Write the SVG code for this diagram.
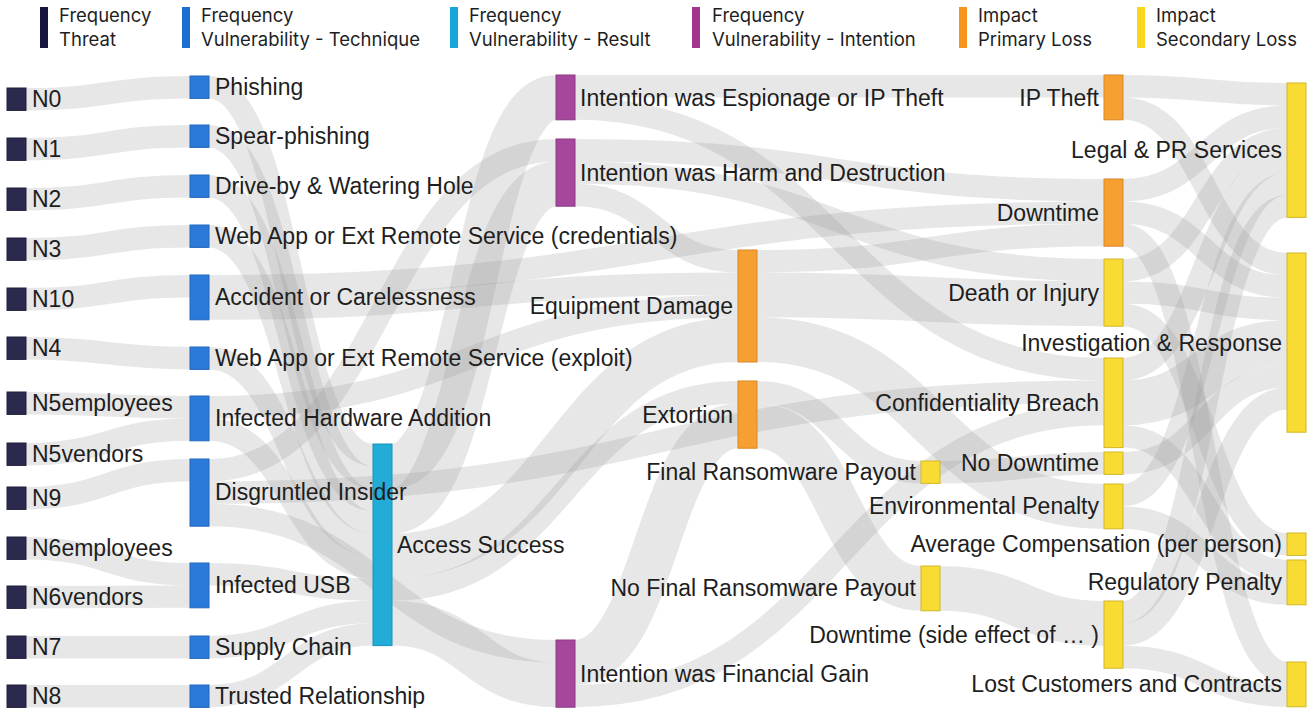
<svg xmlns="http://www.w3.org/2000/svg" width="1308" height="708" viewBox="0 0 1308 708">
<style>
.lk{fill:none;stroke:#9a9a9a;stroke-opacity:0.24}
.n{stroke-width:1}
.c0{fill:#2b2a4e;stroke:#1f1e3a}
.c1{fill:#2b7ad9;stroke:#2467b9}
.c2{fill:#22acd8;stroke:#1a91b8}
.c3{fill:#a6469c;stroke:#8b3a82}
.c4{fill:#f5a031;stroke:#d9872a}
.c5{fill:#f8dc33;stroke:#d2b62a}
.t{font-family:"Liberation Sans",Arial,sans-serif;font-size:23px;fill:#1e1e1e}
.e{text-anchor:end}
.lg{font-family:Inter,"Liberation Sans",sans-serif;font-size:18.5px;fill:#1e1e1e}
</style>
<rect width="1308" height="708" fill="#ffffff"/>
<g id="legend">
<rect x="40" y="7" width="8" height="41" fill="#16153f"/><text class="lg" x="59" y="22">Frequency</text><text class="lg" x="59" y="46">Threat</text>
<rect x="182" y="7" width="8" height="41" fill="#1b6fd2"/><text class="lg" x="201" y="22">Frequency</text><text class="lg" x="201" y="46">Vulnerability - Technique</text>
<rect x="450" y="7" width="8" height="41" fill="#17a6d8"/><text class="lg" x="469" y="22">Frequency</text><text class="lg" x="469" y="46">Vulnerability - Result</text>
<rect x="692" y="7" width="8" height="41" fill="#a5368f"/><text class="lg" x="712" y="22">Frequency</text><text class="lg" x="712" y="46">Vulnerability - Intention</text>
<rect x="959" y="7" width="8" height="41" fill="#f7941d"/><text class="lg" x="978" y="22">Impact</text><text class="lg" x="978" y="46">Primary Loss</text>
<rect x="1137" y="7" width="8" height="41" fill="#f9d71c"/><text class="lg" x="1156" y="22">Impact</text><text class="lg" x="1156" y="46">Secondary Loss</text>
</g>
<g id="links" class="lk" stroke-width="22.4">
<path d="M26 99.2C108 99.2 108 87.2 190 87.2"/>
<path d="M26 149.2C108 149.2 108 136.2 190 136.2"/>
<path d="M26 199.2C108 199.2 108 186.2 190 186.2"/>
<path d="M26 249.2C108 249.2 108 236.2 190 236.2"/>
<path d="M26 299.2C108 299.2 108 286.2 190 286.2"/>
<path d="M26 348.2C108 348.2 108 358.2 190 358.2"/>
<path d="M26 403.2C108 403.2 108 407.2 190 407.2"/>
<path d="M26 454.2C108 454.2 108 429.6 190 429.6"/>
<path d="M26 498.2C108 498.2 108 470.2 190 470.2"/>
<path d="M26 548.2C108 548.2 108 574.2 190 574.2"/>
<path d="M26 597.2C108 597.2 108 596.6 190 596.6"/>
<path d="M26 647.2C108 647.2 108 647.2 190 647.2"/>
<path d="M26 696.2C108 696.2 108 696.2 190 696.2"/>
<path d="M209 87.2C291 87.2 291 455.2 373 455.2"/>
<path d="M209 136.2C291 136.2 291 477.6 373 477.6"/>
<path d="M209 186.2C291 186.2 291 500 373 500"/>
<path d="M209 236.2C291 236.2 291 522.4 373 522.4"/>
<path d="M209 358.2C291 358.2 291 544.8 373 544.8"/>
<path d="M209 429.6C291 429.6 291 567.2 373 567.2"/>
<path d="M209 574.2C291 574.2 291 589.6 373 589.6"/>
<path d="M209 647.2C291 647.2 291 612 373 612"/>
<path d="M209 696.2C291 696.2 291 634.4 373 634.4"/>
<path d="M209 286.2C656.5 286.2 656.5 212.6 1104 212.6"/>
<path d="M209 308.6C473.5 308.6 473.5 283.6 738 283.6"/>
<path d="M209 407.2C473.5 407.2 473.5 306 738 306"/>
<path d="M209 470.2C382.5 470.2 382.5 150.2 556 150.2"/>
<path d="M209 492.6C656.5 492.6 656.5 391.6 1104 391.6"/>
<path d="M209 515C382.5 515 382.5 651.2 556 651.2"/>
<path d="M392 466.4C474 466.4 474 97.4 556 97.4" stroke-width="44.8"/>
<path d="M392 511.2C474 511.2 474 183.8 556 183.8" stroke-width="44.8"/>
<path d="M392 556C565 556 565 339.6 738 339.6" stroke-width="44.8"/>
<path d="M392 589.6C565 589.6 565 392.2 738 392.2"/>
<path d="M392 623.2C474 623.2 474 684.8 556 684.8" stroke-width="44.8"/>
<path d="M575 86.2C839.5 86.2 839.5 86.2 1104 86.2"/>
<path d="M575 108.6C839.5 108.6 839.5 369.2 1104 369.2"/>
<path d="M575 150.2C839.5 150.2 839.5 190.2 1104 190.2"/>
<path d="M575 172.6C839.5 172.6 839.5 270.2 1104 270.2"/>
<path d="M575 195C656.5 195 656.5 261.2 738 261.2"/>
<path d="M575 662.4C656.5 662.4 656.5 425.8 738 425.8" stroke-width="44.8"/>
<path d="M575 696C839.5 696 839.5 414 1104 414"/>
<path d="M757 261.2C930.5 261.2 930.5 235 1104 235"/>
<path d="M757 294.8C930.5 294.8 930.5 303.8 1104 303.8" stroke-width="44.8"/>
<path d="M757 339.6C930.5 339.6 930.5 506.4 1104 506.4" stroke-width="44.8"/>
<path d="M757 392.2C839 392.2 839 472.2 921 472.2"/>
<path d="M757 425.8C839 425.8 839 588.4 921 588.4" stroke-width="44.8"/>
<path d="M940 472.2C1022 472.2 1022 463.2 1104 463.2"/>
<path d="M940 588.4C1022 588.4 1022 623.4 1104 623.4" stroke-width="44.8"/>
<path d="M1123 86.2C1205 86.2 1205 94.2 1287 94.2"/>
<path d="M1123 108.6C1205 108.6 1205 264.2 1287 264.2"/>
<path d="M1123 190.2C1205 190.2 1205 116.6 1287 116.6"/>
<path d="M1123 212.6C1205 212.6 1205 286.6 1287 286.6"/>
<path d="M1123 235C1205 235 1205 673.2 1287 673.2"/>
<path d="M1123 270.2C1205 270.2 1205 139 1287 139"/>
<path d="M1123 292.6C1205 292.6 1205 309 1287 309"/>
<path d="M1123 315C1205 315 1205 544.2 1287 544.2"/>
<path d="M1123 369.2C1205 369.2 1205 161.4 1287 161.4"/>
<path d="M1123 402.8C1205 402.8 1205 342.6 1287 342.6" stroke-width="44.8"/>
<path d="M1123 436.4C1205 436.4 1205 571.2 1287 571.2"/>
<path d="M1123 463.2C1205 463.2 1205 376.2 1287 376.2"/>
<path d="M1123 495.2C1205 495.2 1205 183.8 1287 183.8"/>
<path d="M1123 517.6C1205 517.6 1205 593.6 1287 593.6"/>
<path d="M1123 612.2C1205 612.2 1205 206.2 1287 206.2"/>
<path d="M1123 634.6C1205 634.6 1205 398.6 1287 398.6"/>
<path d="M1123 657C1205 657 1205 695.6 1287 695.6"/>
</g>
<g id="nodes">
<g id="n-access"><rect class="n c2" x="373" y="444" width="19" height="201.6"/><text class="t" x="397" y="553">Access Success</text></g>
<g id="n-N0"><rect class="n c0" x="7" y="88" width="19" height="22.4"/><text class="t" x="32" y="107">N0</text></g>
<g id="n-N1"><rect class="n c0" x="7" y="138" width="19" height="22.4"/><text class="t" x="32" y="157">N1</text></g>
<g id="n-N2"><rect class="n c0" x="7" y="188" width="19" height="22.4"/><text class="t" x="32" y="207">N2</text></g>
<g id="n-N3"><rect class="n c0" x="7" y="238" width="19" height="22.4"/><text class="t" x="32" y="257">N3</text></g>
<g id="n-N10"><rect class="n c0" x="7" y="288" width="19" height="22.4"/><text class="t" x="32" y="307">N10</text></g>
<g id="n-N4"><rect class="n c0" x="7" y="337" width="19" height="22.4"/><text class="t" x="32" y="356">N4</text></g>
<g id="n-N5employees"><rect class="n c0" x="7" y="392" width="19" height="22.4"/><text class="t" x="32" y="411">N5employees</text></g>
<g id="n-N5vendors"><rect class="n c0" x="7" y="443" width="19" height="22.4"/><text class="t" x="32" y="462">N5vendors</text></g>
<g id="n-N9"><rect class="n c0" x="7" y="487" width="19" height="22.4"/><text class="t" x="32" y="506">N9</text></g>
<g id="n-N6employees"><rect class="n c0" x="7" y="537" width="19" height="22.4"/><text class="t" x="32" y="556">N6employees</text></g>
<g id="n-N6vendors"><rect class="n c0" x="7" y="586" width="19" height="22.4"/><text class="t" x="32" y="605">N6vendors</text></g>
<g id="n-N7"><rect class="n c0" x="7" y="636" width="19" height="22.4"/><text class="t" x="32" y="655">N7</text></g>
<g id="n-N8"><rect class="n c0" x="7" y="685" width="19" height="22.4"/><text class="t" x="32" y="704">N8</text></g>
<g id="n-phishing"><rect class="n c1" x="190" y="76" width="19" height="22.4"/><text class="t" x="215" y="95">Phishing</text></g>
<g id="n-spear"><rect class="n c1" x="190" y="125" width="19" height="22.4"/><text class="t" x="215" y="144">Spear-phishing</text></g>
<g id="n-driveby"><rect class="n c1" x="190" y="175" width="19" height="22.4"/><text class="t" x="215" y="194">Drive-by &amp; Watering Hole</text></g>
<g id="n-webcred"><rect class="n c1" x="190" y="225" width="19" height="22.4"/><text class="t" x="215" y="244">Web App or Ext Remote Service (credentials)</text></g>
<g id="n-accident"><rect class="n c1" x="190" y="275" width="19" height="44.8"/><text class="t" x="215" y="305">Accident or Carelessness</text></g>
<g id="n-webexploit"><rect class="n c1" x="190" y="347" width="19" height="22.4"/><text class="t" x="215" y="366">Web App or Ext Remote Service (exploit)</text></g>
<g id="n-infhw"><rect class="n c1" x="190" y="396" width="19" height="44.8"/><text class="t" x="215" y="426">Infected Hardware Addition</text></g>
<g id="n-disgruntled"><rect class="n c1" x="190" y="459" width="19" height="67.2"/><text class="t" x="215" y="500">Disgruntled Insider</text></g>
<g id="n-usb"><rect class="n c1" x="190" y="563" width="19" height="44.8"/><text class="t" x="215" y="593">Infected USB</text></g>
<g id="n-supply"><rect class="n c1" x="190" y="636" width="19" height="22.4"/><text class="t" x="215" y="655">Supply Chain</text></g>
<g id="n-trusted"><rect class="n c1" x="190" y="685" width="19" height="22.4"/><text class="t" x="215" y="704">Trusted Relationship</text></g>
<g id="n-espionage"><rect class="n c3" x="556" y="75" width="19" height="44.8"/><text class="t" x="580" y="106">Intention was Espionage or IP Theft</text></g>
<g id="n-harm"><rect class="n c3" x="556" y="139" width="19" height="67.2"/><text class="t" x="580" y="181">Intention was Harm and Destruction</text></g>
<g id="n-financial"><rect class="n c3" x="556" y="640" width="19" height="67.2"/><text class="t" x="580" y="682">Intention was Financial Gain</text></g>
<g id="n-equipment"><rect class="n c4" x="738" y="250" width="19" height="112"/><text class="t e" x="733" y="314">Equipment Damage</text></g>
<g id="n-extortion"><rect class="n c4" x="738" y="381" width="19" height="67.2"/><text class="t e" x="733" y="423">Extortion</text></g>
<g id="n-finalpay"><rect class="n c5" x="921" y="461" width="19" height="22.4"/><text class="t e" x="916" y="480">Final Ransomware Payout</text></g>
<g id="n-nofinalpay"><rect class="n c5" x="921" y="566" width="19" height="44.8"/><text class="t e" x="916" y="596">No Final Ransomware Payout</text></g>
<g id="n-iptheft"><rect class="n c4" x="1104" y="75" width="19" height="44.8"/><text class="t e" x="1099" y="106">IP Theft</text></g>
<g id="n-downtime"><rect class="n c4" x="1104" y="179" width="19" height="67.2"/><text class="t e" x="1099" y="221">Downtime</text></g>
<g id="n-death"><rect class="n c5" x="1104" y="259" width="19" height="67.2"/><text class="t e" x="1099" y="301">Death or Injury</text></g>
<g id="n-confidentiality"><rect class="n c5" x="1104" y="358" width="19" height="89.6"/><text class="t e" x="1099" y="411">Confidentiality Breach</text></g>
<g id="n-nodowntime"><rect class="n c5" x="1104" y="452" width="19" height="22.4"/><text class="t e" x="1099" y="471">No Downtime</text></g>
<g id="n-environmental"><rect class="n c5" x="1104" y="484" width="19" height="44.8"/><text class="t e" x="1099" y="514">Environmental Penalty</text></g>
<g id="n-downtimeside"><rect class="n c5" x="1104" y="601" width="19" height="67.2"/><text class="t e" x="1099" y="643">Downtime (side effect of … )</text></g>
<g id="n-legal"><rect class="n c5" x="1287" y="83" width="19" height="134.4"/><text class="t e" x="1282" y="158">Legal &amp; PR Services</text></g>
<g id="n-investigation"><rect class="n c5" x="1287" y="253" width="19" height="179.2"/><text class="t e" x="1282" y="351">Investigation &amp; Response</text></g>
<g id="n-avgcomp"><rect class="n c5" x="1287" y="533" width="19" height="22.4"/><text class="t e" x="1282" y="552">Average Compensation (per person)</text></g>
<g id="n-regulatory"><rect class="n c5" x="1287" y="560" width="19" height="44.8"/><text class="t e" x="1282" y="590">Regulatory Penalty</text></g>
<g id="n-lost"><rect class="n c5" x="1287" y="662" width="19" height="44.8"/><text class="t e" x="1282" y="692">Lost Customers and Contracts</text></g>
</g>
</svg>
